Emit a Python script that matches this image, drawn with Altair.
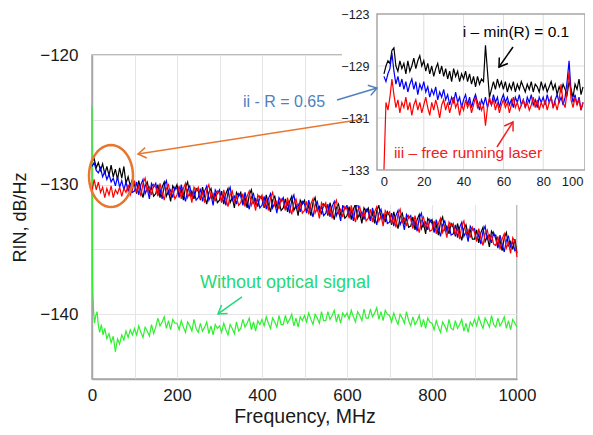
import math
import altair as alt
import pandas as pd

FONT = "Liberation Sans"

# ---------------- main plot data (RIN vs frequency, MHz) ----------------
MAIN_FREQ = list(range(0, 1001, 5))

BLACK = [
    -128.2, -128.0, -128.7, -128.3, -128.9, -128.4, -129.2, -128.6, -129.3, -128.5,
    -129.4, -128.8, -129.6, -128.7, -129.5, -128.6, -129.9, -129.4, -130.1, -129.6,
    -130.0, -130.7, -129.7, -130.4, -131.0, -130.1, -129.8, -130.6, -130.2, -130.9,
    -130.7, -130.0, -131.0, -130.2, -129.8, -130.9, -130.5, -131.3, -130.1, -130.4,
    -130.0, -130.9, -130.4, -131.2, -130.2, -129.8, -130.8, -130.5, -131.1, -130.3,
    -130.5, -131.2, -130.2, -130.9, -131.5, -130.6, -130.3, -131.1, -130.7, -131.4,
    -131.2, -130.5, -131.5, -130.7, -130.3, -131.4, -131.0, -131.8, -130.6, -130.9,
    -130.6, -131.5, -131.0, -131.8, -130.8, -130.4, -131.4, -131.1, -131.7, -130.9,
    -131.1, -131.8, -130.8, -131.5, -132.1, -131.2, -130.9, -131.7, -131.3, -132.0,
    -131.8, -131.1, -132.1, -131.3, -130.9, -132.0, -131.6, -132.4, -131.2, -131.5,
    -131.2, -132.1, -131.6, -132.4, -131.4, -131.0, -132.0, -131.7, -132.3, -131.5,
    -131.7, -132.4, -131.4, -132.1, -132.7, -131.8, -131.5, -132.3, -131.9, -132.6,
    -132.4, -131.7, -132.7, -131.9, -131.5, -132.6, -132.2, -133.0, -131.8, -132.1,
    -131.8, -132.7, -132.2, -133.0, -132.0, -131.6, -132.6, -132.3, -132.9, -132.1,
    -132.4, -133.1, -132.1, -132.8, -133.4, -132.5, -132.2, -133.0, -132.6, -133.3,
    -133.2, -132.5, -133.5, -132.7, -132.3, -133.4, -133.0, -133.8, -132.6, -132.9,
    -132.7, -133.6, -133.1, -133.9, -132.9, -132.5, -133.5, -133.2, -133.8, -133.0,
    -133.3, -134.0, -133.0, -133.7, -134.3, -133.4, -133.1, -133.9, -133.5, -134.2,
    -134.2, -133.5, -134.5, -133.7, -133.3, -134.4, -134.0, -134.8, -133.6, -133.9,
    -133.9, -134.8, -134.3, -135.1, -134.1, -133.7, -134.7, -134.4, -135.0, -134.2,
    -135.3,
]

BLUE = [
    -128.6, -128.3, -128.9, -129.1, -128.7, -129.4, -129.0, -129.6, -129.2, -129.8,
    -129.5, -130.1, -129.4, -130.2, -129.7, -130.4, -129.8, -130.5, -130.0, -130.6,
    -130.5, -129.8, -130.8, -130.0, -129.6, -130.7, -130.3, -131.1, -129.9, -130.2,
    -129.9, -130.8, -130.3, -131.1, -130.1, -129.7, -130.7, -130.4, -131.0, -130.2,
    -130.3, -131.0, -130.0, -130.7, -131.3, -130.4, -130.1, -130.9, -130.5, -131.2,
    -131.0, -130.3, -131.3, -130.5, -130.1, -131.2, -130.8, -131.6, -130.4, -130.7,
    -130.4, -131.3, -130.8, -131.6, -130.6, -130.2, -131.2, -130.9, -131.5, -130.7,
    -130.9, -131.6, -130.6, -131.3, -131.9, -131.0, -130.7, -131.5, -131.1, -131.8,
    -131.6, -130.9, -131.9, -131.1, -130.7, -131.8, -131.4, -132.2, -131.0, -131.3,
    -131.0, -131.9, -131.4, -132.2, -131.2, -130.8, -131.8, -131.5, -132.1, -131.3,
    -131.5, -132.2, -131.2, -131.9, -132.5, -131.6, -131.3, -132.1, -131.7, -132.4,
    -132.2, -131.5, -132.5, -131.7, -131.3, -132.4, -132.0, -132.8, -131.6, -131.9,
    -131.6, -132.5, -132.0, -132.8, -131.8, -131.4, -132.4, -132.1, -132.7, -131.9,
    -132.1, -132.8, -131.8, -132.5, -133.1, -132.2, -131.9, -132.7, -132.3, -133.0,
    -132.9, -132.2, -133.2, -132.4, -132.0, -133.1, -132.7, -133.5, -132.3, -132.6,
    -132.4, -133.3, -132.8, -133.6, -132.6, -132.2, -133.2, -132.9, -133.5, -132.7,
    -133.0, -133.7, -132.7, -133.4, -134.0, -133.1, -132.8, -133.6, -133.2, -133.9,
    -133.8, -133.1, -134.1, -133.3, -132.9, -134.0, -133.6, -134.4, -133.2, -133.5,
    -133.4, -134.3, -133.8, -134.6, -133.6, -133.2, -134.2, -133.9, -134.5, -133.7,
    -134.2, -134.9, -133.9, -134.6, -135.2, -134.3, -134.0, -134.8, -134.4, -135.1,
    -135.0,
]

RED = [
    -130.5, -129.6, -130.4, -129.8, -130.6, -130.2, -131.0, -130.3, -130.8, -130.1,
    -131.0, -130.4, -130.7, -130.2, -130.9, -130.3, -130.6, -130.0, -130.8, -130.4,
    -129.7, -130.6, -130.1, -130.9, -129.9, -129.5, -130.5, -130.2, -130.8, -130.0,
    -130.2, -130.9, -129.9, -130.6, -131.2, -130.3, -130.0, -130.8, -130.4, -131.1,
    -130.8, -130.1, -131.1, -130.3, -129.9, -131.0, -130.6, -131.4, -130.2, -130.5,
    -130.2, -131.1, -130.6, -131.4, -130.4, -130.0, -131.0, -130.7, -131.3, -130.5,
    -130.7, -131.4, -130.4, -131.1, -131.7, -130.8, -130.5, -131.3, -130.9, -131.6,
    -131.4, -130.7, -131.7, -130.9, -130.5, -131.6, -131.2, -132.0, -130.8, -131.1,
    -130.8, -131.7, -131.2, -132.0, -131.0, -130.6, -131.6, -131.3, -131.9, -131.1,
    -131.3, -132.0, -131.0, -131.7, -132.3, -131.4, -131.1, -131.9, -131.5, -132.2,
    -132.0, -131.3, -132.3, -131.5, -131.1, -132.2, -131.8, -132.6, -131.4, -131.7,
    -131.4, -132.3, -131.8, -132.6, -131.6, -131.2, -132.2, -131.9, -132.5, -131.7,
    -131.9, -132.6, -131.6, -132.3, -132.9, -132.0, -131.7, -132.5, -132.1, -132.8,
    -132.6, -131.9, -132.9, -132.1, -131.7, -132.8, -132.4, -133.2, -132.0, -132.3,
    -132.1, -133.0, -132.5, -133.3, -132.3, -131.9, -132.9, -132.6, -133.2, -132.4,
    -132.7, -133.4, -132.4, -133.1, -133.7, -132.8, -132.5, -133.3, -132.9, -133.6,
    -133.5, -132.8, -133.8, -133.0, -132.6, -133.7, -133.3, -134.1, -132.9, -133.2,
    -133.0, -133.9, -133.4, -134.2, -133.2, -132.8, -133.8, -133.5, -134.1, -133.3,
    -133.7, -134.4, -133.4, -134.1, -134.7, -133.8, -133.5, -134.3, -133.9, -134.6,
    -134.7, -134.0, -135.0, -134.2, -133.8, -134.9, -134.5, -135.3, -134.1, -134.4,
    -135.6,
]

GREEN_FREQ = [0, 1, 2, 4, 6, 9, 12, 15, 18, 22, 26, 30] + list(range(35, 1001, 5))
GREEN = [
    -124.0, -137.6, -138.4, -139.9, -140.7, -140.1, -139.8, -140.9, -141.4, -140.8, -141.6, -141.1,
    -141.9, -141.5, -142.2, -141.7, -142.9, -141.9, -142.3, -141.6, -142.0, -141.3, -141.8,
    -141.2, -141.6,
    -141.1, -141.6, -140.9, -141.4, -141.8, -141.0, -141.3, -141.7, -140.8, -141.5,
    -141.0, -140.3, -140.9, -140.6, -140.2, -141.1, -140.5, -141.2, -140.4, -140.7,
    -140.7, -141.2, -140.5, -141.0, -141.4, -140.6, -140.9, -141.3, -140.4, -141.1,
    -141.4, -140.7, -141.3, -141.0, -140.6, -141.5, -140.9, -141.6, -140.8, -141.1,
    -140.9, -141.4, -140.7, -141.2, -141.6, -140.8, -141.1, -141.5, -140.6, -141.3,
    -141.1, -140.4, -141.0, -140.7, -140.3, -141.2, -140.6, -141.3, -140.5, -140.8,
    -140.4, -140.9, -140.2, -140.7, -141.1, -140.3, -140.6, -141.0, -140.1, -140.8,
    -140.8, -140.1, -140.7, -140.4, -140.0, -140.9, -140.3, -141.0, -140.2, -140.5,
    -140.1, -140.6, -139.9, -140.4, -140.8, -140.0, -140.3, -140.7, -139.8, -140.5,
    -140.5, -139.8, -140.4, -140.1, -139.7, -140.6, -140.0, -140.7, -139.9, -140.2,
    -139.9, -140.4, -139.7, -140.2, -140.6, -139.8, -140.1, -140.5, -139.6, -140.3,
    -140.3, -139.6, -140.2, -139.9, -139.5, -140.4, -139.8, -140.5, -139.7, -140.0,
    -140.1, -140.6, -139.9, -140.4, -140.8, -140.0, -140.3, -140.7, -139.8, -140.5,
    -140.9, -140.2, -140.8, -140.5, -140.1, -141.0, -140.4, -141.1, -140.3, -140.6,
    -140.7, -141.2, -140.5, -141.0, -141.4, -140.6, -140.9, -141.3, -140.4, -141.1,
    -141.2, -140.5, -141.1, -140.8, -140.4, -141.3, -140.7, -141.4, -140.6, -140.9,
    -140.4, -140.9, -140.2, -140.7, -141.1, -140.3, -140.6, -141.0, -140.1, -140.8,
    -141.0, -140.3, -140.9, -140.6, -140.2, -141.1, -140.5, -141.2, -140.4, -140.7,
    -141.0,
]

# ---------------- inset data (0-100 MHz zoom) ----------------
INSET_FREQ = list(range(0, 101))
INSET_BLACK = [
    -129.3, -129.0, -128.8, -128.9, -128.4, -128.3, -129.0, -129.2, -128.8, -129.1,
    -128.9, -129.3, -128.8, -129.2, -129.0, -128.7, -129.1, -128.8, -128.6, -129.0,
    -128.8, -129.2, -128.9, -129.3, -129.0, -129.4, -129.1, -128.9, -129.3, -129.0,
    -129.4, -129.1, -129.5, -129.2, -129.6, -129.1, -129.4, -129.2, -129.6, -129.3,
    -129.5, -129.2, -129.6, -129.3, -129.7, -129.4, -129.8, -129.4, -129.7, -129.5,
    -129.6, -128.2, -129.2, -130.2, -129.9, -129.6, -129.9, -129.5, -129.8, -129.6,
    -129.9, -129.6, -130.0, -129.7, -129.9, -129.6, -130.0, -129.7, -129.9, -129.6,
    -129.8, -130.0, -129.7, -129.9, -129.6, -130.0, -129.7, -129.8, -130.0, -129.6,
    -129.9, -129.7, -130.0, -129.8, -129.6, -129.9, -129.7, -130.1, -129.8, -130.0,
    -129.7, -129.9, -130.1, -129.6, -129.9, -130.2, -129.7, -129.9, -129.5, -130.1,
    -129.8,
]
INSET_BLUE = [
    -129.4, -129.6, -129.3, -129.1, -128.5, -129.2, -129.7, -129.4, -129.8, -129.5,
    -129.9, -129.6, -130.0, -129.7, -129.5, -129.9, -129.6, -130.1, -129.7, -129.9,
    -129.6, -130.0, -129.8, -130.2, -129.9, -130.1, -129.8, -130.3, -130.0, -130.2,
    -129.9, -130.3, -130.1, -130.5, -130.2, -130.4, -130.0, -130.4, -130.2, -130.6,
    -130.3, -130.1, -130.5, -130.2, -130.6, -130.3, -130.1, -130.4, -130.7, -130.3,
    -130.5, -130.2, -130.6, -130.3, -130.5, -130.1, -130.4, -130.2, -130.6, -130.3,
    -130.1, -130.4, -130.2, -130.5, -130.3, -130.6, -130.2, -130.4, -130.1, -130.5,
    -130.3, -130.6, -130.2, -130.4, -130.1, -130.5, -130.3, -130.6, -130.2, -130.4,
    -130.2, -130.5, -130.1, -130.4, -130.2, -130.6, -130.3, -130.1, -130.4, -130.2,
    -130.5, -130.2, -129.6, -128.8, -130.0, -130.4, -130.1, -130.5, -130.2, -130.7,
    -130.4,
]
INSET_RED = [
    -133.0, -130.4, -130.7, -130.2, -129.5, -130.1, -130.6, -130.3, -130.8, -130.4,
    -130.6, -130.2, -130.7, -130.4, -130.9, -130.5, -130.3, -130.7, -130.4, -130.8,
    -130.5, -130.2, -130.6, -130.9, -130.4, -130.7, -130.3, -130.6, -131.0, -130.5,
    -130.3, -130.7, -130.4, -130.8, -130.5, -130.2, -130.6, -130.4, -130.9, -130.5,
    -130.7, -130.3, -130.6, -130.4, -130.8, -130.5, -130.2, -130.6, -130.4, -130.7,
    -130.5, -131.3, -130.6, -130.2, -130.5, -130.3, -130.7, -130.4, -130.8, -130.5,
    -130.3, -130.6, -130.4, -130.8, -130.5, -130.2, -130.6, -130.4, -130.7, -130.5,
    -130.3, -130.6, -130.4, -130.7, -130.5, -130.2, -130.6, -130.3, -130.7, -130.4,
    -130.6, -130.3, -130.7, -130.4, -130.2, -130.6, -130.4, -130.7, -130.3, -129.7,
    -130.4, -130.6, -130.0, -129.2, -130.3, -130.6, -130.2, -130.5, -130.3, -130.7,
    -130.4,
]

# ---------------- annotations (in main-plot data units) ----------------
ANN_TEXT = ["i \u2013 min(R) = 0.1", "ii - R = 0.65", "iii \u2013 free running laser", "Without optical signal"]
ANN_TX = [997.6, 451.8, 884.7, 454.1]
ANN_TY = [-118.23, -123.63, -127.56, -137.59]
ANN_TCOLOR = ["#000000", "#4f81bd", "#ee2222", "#25d977"]
ANN_TSIZE = [15.5, 16, 15.5, 18]

ARR_X1 = [990.6, 576.5, 640.0, 952.9, 352.9]
ARR_Y1 = [-119.38, -123.47, -124.94, -127.10, -138.67]
ARR_X2 = [957.6, 670.6, 108.2, 990.6, 296.5]
ARR_Y2 = [-120.93, -122.55, -127.64, -125.17, -139.98]
ARR_COLOR = ["#000000", "#4f81bd", "#e8772e", "#ee2222", "#25d977"]

ELL_X = [44.7]
ELL_Y = [-129.34]

# ---------------- layout ----------------
W, H = 425, 324
X_DOM = [0, 1000]
Y_DOM = [-145, -120]
PX_X = W / (X_DOM[1] - X_DOM[0])
PX_Y = H / (Y_DOM[1] - Y_DOM[0])

main_x = alt.Scale(domain=X_DOM, nice=False, zero=False)
main_y = alt.Scale(domain=Y_DOM, nice=False, zero=False)

x_axis = alt.Axis(
    title="Frequency, MHz", values=list(range(0, 1001, 100)),
    labelExpr="datum.value % 200 === 0 ? datum.label : ''", format="d",
    grid=True, gridColor="#e4e4e4", domainColor="#a6a6a6", domainWidth=1.5,
    ticks=False, labelFontSize=17, labelColor="#1a1a1a", labelPadding=8,
    labelOverlap=False, labelFlush=False,
    titleFontSize=19.5, titleFontWeight="normal", titleColor="#1a1a1a", titlePadding=4,
)
y_axis = alt.Axis(
    title="RIN, dB/Hz", values=list(range(-145, -119, 5)),
    labelExpr="datum.value % 10 === 0 ? datum.label : ''",
    grid=True, gridColor="#e4e4e4", domainColor="#a6a6a6", domainWidth=1.5,
    ticks=False, labelFontSize=17, labelColor="#1a1a1a", labelPadding=14,
    labelOverlap=False, labelFlush=False,
    titleFontSize=18, titleFontWeight="normal", titleColor="#1a1a1a", titlePadding=10,
)


def main_line(freq, vals, color):
    df = pd.DataFrame({"f": freq, "v": vals})
    return alt.Chart(df).mark_line(color=color, strokeWidth=1.2).encode(
        x=alt.X("f:Q", scale=main_x, axis=x_axis),
        y=alt.Y("v:Q", scale=main_y, axis=y_axis),
    )


main = alt.layer(
    main_line(GREEN_FREQ, GREEN, "#2ef02e"),
    main_line(MAIN_FREQ, BLACK, "#000000"),
    main_line(MAIN_FREQ, BLUE, "#0000ff"),
    main_line(MAIN_FREQ, RED, "#ff0000"),
)

# ---------------- inset ----------------
IX_DOM = [-3.5, 101]
IY_DOM = [-133, -127]
ix = alt.Scale(domain=IX_DOM, range=[285, 493], nice=False, zero=False)
iy = alt.Scale(domain=IY_DOM, range=[115, -41], nice=False, zero=False)
ix_axis = alt.Axis(
    orient="bottom", offset=115 - H, values=[0, 20, 40, 60, 80, 100], grid=False,
    ticks=False, domain=False, labelFontSize=13, labelPadding=5, title=None,
    zindex=2, labelColor="#1a1a1a", labelFlush=5, labelOverlap=False,
)
iy_axis = alt.Axis(
    orient="left", offset=-285, values=[-133, -131, -129, -127],
    labelExpr="datum.value === -127 ? '\u2212123' : datum.label", grid=False,
    ticks=False, domain=False, labelFontSize=12.5, labelPadding=8, title=None,
    zindex=2, labelColor="#1a1a1a", labelFlush=False, labelOverlap=False,
)

bg = alt.Chart(pd.DataFrame({"a": [0]})).mark_rect(color="white", opacity=1).encode(
    x=alt.value(250), x2=alt.value(510), y=alt.value(-60), y2=alt.value(150)
)

vgrid = alt.Chart(pd.DataFrame({"f": [20, 40, 60, 80], "lo": [IY_DOM[0]] * 4, "hi": [IY_DOM[1]] * 4})).mark_rule(
    color="#dedede", strokeWidth=1
).encode(
    x=alt.X("f:Q", scale=ix, axis=ix_axis),
    y=alt.Y("lo:Q", scale=iy, axis=iy_axis), y2="hi:Q",
)
hgrid = alt.Chart(pd.DataFrame({"v": [-131, -129], "lo": [IX_DOM[0]] * 2, "hi": [IX_DOM[1]] * 2})).mark_rule(
    color="#dedede", strokeWidth=1
).encode(
    y=alt.Y("v:Q", scale=iy, axis=iy_axis),
    x=alt.X("lo:Q", scale=ix, axis=ix_axis), x2="hi:Q",
)


def inset_line(vals, color):
    df = pd.DataFrame({"f": INSET_FREQ, "v": vals})
    return alt.Chart(df).mark_line(color=color, strokeWidth=1.2).encode(
        x=alt.X("f:Q", scale=ix, axis=ix_axis),
        y=alt.Y("v:Q", scale=iy, axis=iy_axis),
    )


frame = alt.Chart(pd.DataFrame({"x1": [IX_DOM[0]], "x2": [IX_DOM[1]], "y1": [IY_DOM[0]], "y2": [IY_DOM[1]]})).mark_rect(
    fillOpacity=0, stroke="#a6a6a6", strokeWidth=1.5
).encode(
    x=alt.X("x1:Q", scale=ix, axis=ix_axis), x2="x2:Q",
    y=alt.Y("y1:Q", scale=iy, axis=iy_axis), y2="y2:Q",
)

inset = alt.layer(
    bg, vgrid, hgrid,
    inset_line(INSET_BLACK, "#000000"),
    inset_line(INSET_BLUE, "#0000ff"),
    inset_line(INSET_RED, "#ff0000"),
    frame,
)

# ---------------- annotation layer ----------------
ann_x = alt.Scale(domain=X_DOM, nice=False, zero=False)
ann_y = alt.Scale(domain=Y_DOM, nice=False, zero=False)

angles = []
for x1, y1, x2, y2 in zip(ARR_X1, ARR_Y1, ARR_X2, ARR_Y2):
    dx = (x2 - x1) * PX_X
    dy = -(y2 - y1) * PX_Y
    angles.append(math.degrees(math.atan2(dy, dx)) % 360)

arr_df = pd.DataFrame({"x1": ARR_X1, "y1": ARR_Y1, "x2": ARR_X2, "y2": ARR_Y2, "c": ARR_COLOR, "ang": angles})
txt_df = pd.DataFrame({"x": ANN_TX, "y": ANN_TY, "t": ANN_TEXT, "c": ANN_TCOLOR, "fs": ANN_TSIZE})
ell_df = pd.DataFrame({"x": ELL_X, "y": ELL_Y})

HEAD = "M -1 -0.65 L 0 0 L -1 0.65"
ELLIPSE = " ".join(
    ("M" if i == 0 else "L") + " %.3f %.3f" % (0.71 * math.cos(2 * math.pi * i / 48), math.sin(2 * math.pi * i / 48))
    for i in range(48)
) + " Z"

arrows = alt.Chart(arr_df).mark_rule(strokeWidth=1.5).encode(
    x=alt.X("x1:Q", scale=ann_x, axis=None), y=alt.Y("y1:Q", scale=ann_y, axis=None),
    x2="x2:Q", y2="y2:Q", color=alt.Color("c:N", scale=None),
)
heads = alt.Chart(arr_df).mark_point(shape=HEAD, filled=False, size=260, strokeWidth=1.5, opacity=1).encode(
    x=alt.X("x2:Q", scale=ann_x, axis=None), y=alt.Y("y2:Q", scale=ann_y, axis=None),
    angle=alt.Angle("ang:Q", scale=None), color=alt.Color("c:N", scale=None),
)
ellipse = alt.Chart(ell_df).mark_point(shape=ELLIPSE, filled=False, size=3844, strokeWidth=2.5,
                                       color="#e8772e", opacity=1).encode(
    x=alt.X("x:Q", scale=ann_x, axis=None), y=alt.Y("y:Q", scale=ann_y, axis=None),
)
texts = alt.Chart(txt_df).mark_text(font=FONT).encode(
    x=alt.X("x:Q", scale=ann_x, axis=None), y=alt.Y("y:Q", scale=ann_y, axis=None),
    text="t:N", color=alt.Color("c:N", scale=None), size=alt.Size("fs:Q", scale=None),
)

annot = alt.layer(ellipse, arrows, heads, texts)

chart = (
    alt.layer(main, inset, annot)
    .resolve_scale(x="independent", y="independent")
    .properties(
        width=W, height=H,
        autosize=alt.AutoSizeParams(type="none"),
        padding={"left": 84, "top": 47, "right": 68, "bottom": 48},
    )
    .configure(font=FONT, background="white")
    .configure_view(stroke="#a6a6a6", strokeWidth=1.5)
)

chart.save("out.html", embed_options={"renderer": "svg", "actions": False})
